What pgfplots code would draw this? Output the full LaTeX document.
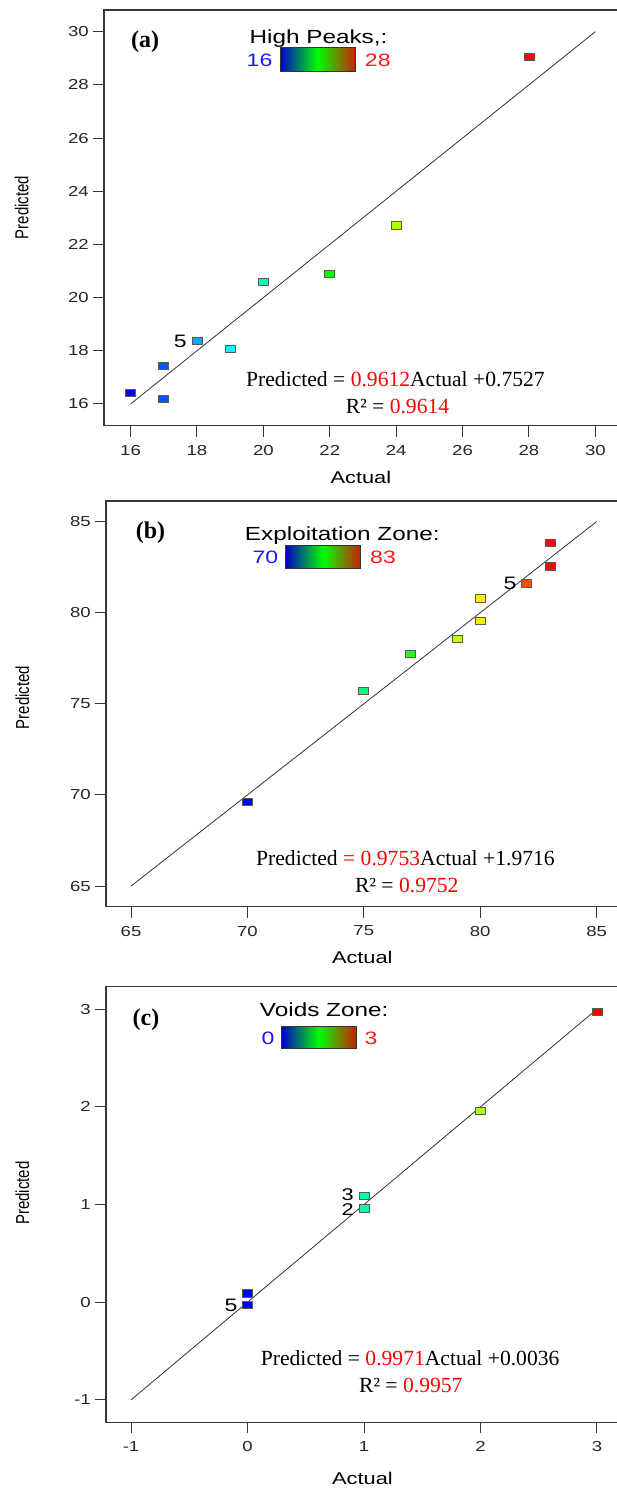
\documentclass[border=0pt]{standalone}
\usepackage{graphicx}
\usepackage{fontspec}
\usepackage{pgfplots}
\pgfplotsset{compat=1.18}
\setmainfont{Liberation Serif}
\newfontfamily\dxfont[FakeStretch=1.28]{Liberation Sans}
\newfontfamily\dxplain{Liberation Sans}

\definecolor{axisgray}{RGB}{55,55,55}
\definecolor{lblue}{RGB}{25,25,255}
\definecolor{lred}{RGB}{255,25,25}
\definecolor{eqred}{RGB}{255,0,0}
\definecolor{cbblue}{RGB}{0,0,200}
\definecolor{cbgreen}{RGB}{0,255,0}
\definecolor{cbred}{RGB}{205,30,0}

\tikzset{
  runlabel/.style={anchor=east, inner sep=0pt, xshift=-10pt,
    font=\dxfont\fontsize{18}{18}\selectfont},
}

\pgfplotsset{
  colormap={dx}{rgb255=(0,0,255) rgb255=(0,255,255) rgb255=(0,255,0) rgb255=(255,255,0) rgb255=(255,0,0)},
  dxaxis/.style={
    scale only axis, anchor=south west,
    axis line style={axisgray, line width=1.2pt},
    tick style={axisgray, line width=1pt},
    major tick length=11pt, tick align=outside,
    xtick pos=bottom, ytick pos=left,
    /pgf/number format/assume math mode=true,
    ticklabel style={font=\dxfont\fontsize{14.5}{15}\selectfont, text=black!85},
    yticklabel style={inner sep=0pt, xshift=-4pt},
    xticklabel style={inner sep=0pt, yshift=-8pt},
    xlabel style={font=\dxfont\fontsize{17}{18}\selectfont, anchor=base},
    ylabel style={font=\dxplain\fontsize{15}{15}\selectfont, anchor=center},
    clip=false,
  },
  dxpoints/.style={
    scatter, only marks, mark=square*, mark size=3.65pt, point meta=x,
    scatter/use mapped color={draw=black!65, fill=mapped color},
    mark options={xscale=1.37, line width=0.8pt},
  },
  fitline/.style={black!80, line width=0.8pt},
}

\begin{document}
\begin{tikzpicture}

% ---------- (a) High Peaks ----------
\begin{axis}[dxaxis,
  at={(104pt,1062.3pt)}, width=517.9pt, height=415.7pt,
  xmin=15.2, xmax=30.8, ymin=15.184, ymax=30.816,
  xtick={16,18,...,30}, ytick={16,18,...,30},
  point meta min=16, point meta max=28,
  xlabel={Actual}, xlabel style={at={(axis description cs:0.496,0)}, yshift=-57.6pt},
  ylabel={\scalebox{1}[1.25]{Predicted}}, ylabel style={at={(axis description cs:-0.159,0.525)}},
]
\addplot[fitline] coordinates {(16,16) (30,30)};
\addplot[dxpoints] table {
x  y
16 16.41
17 17.43
17 16.19
18 18.37
19 18.07
20 20.60
22 20.88
24 22.71
28 29.04
};
\node[runlabel] at (axis cs:18,18.37) {5};
\end{axis}

% ---------- (b) Exploitation Zone ----------
\begin{axis}[dxaxis,
  at={(106pt,581.3pt)}, width=515.6pt, height=405.7pt,
  xmin=63.926, xmax=86.074, ymin=63.87, ymax=86.13,
  xtick={65,70,...,85}, ytick={65,70,...,85},
  point meta min=70, point meta max=83,
  xlabel={Actual}, xlabel style={at={(axis description cs:0.497,0)}, yshift=-56.6pt},
  ylabel={\scalebox{1}[1.25]{Predicted}}, ylabel style={at={(axis description cs:-0.162,0.516)}},
]
\addplot[fitline] coordinates {(65,65) (85,85)};
\addplot[dxpoints] table {
x  y
70 69.63
75 75.70
77 77.74
79 78.58
80 79.56
80 80.78
82 81.61
83 82.54
83 83.83
};
\node[runlabel] at (axis cs:82,81.61) {5};
\end{axis}

% ---------- (c) Voids Zone ----------
\begin{axis}[dxaxis,
  at={(106pt,65.7pt)}, width=516pt, height=435.6pt,
  xmin=-1.215, xmax=3.215, ymin=-1.23, ymax=3.23,
  xtick={-1,0,...,3}, ytick={-1,0,...,3},
  point meta min=0, point meta max=3,
  xlabel={Actual}, xlabel style={at={(axis description cs:0.497,0)}, yshift=-61.7pt},
  ylabel={\scalebox{1}[1.25]{Predicted}}, ylabel style={at={(axis description cs:-0.162,0.526)}},
]
\addplot[fitline] coordinates {(-1,-1) (3,3)};
\addplot[dxpoints] table {
x y
0 0.09
0 -0.03
1 1.09
1 0.96
2 1.96
3 2.97
};
\node[runlabel, yshift=1.5pt, font=\dxfont\fontsize{17}{17}\selectfont] at (axis cs:1,1.09) {3};
\node[runlabel, yshift=-1.5pt, font=\dxfont\fontsize{17}{17}\selectfont] at (axis cs:1,0.96) {2};
\node[runlabel] at (axis cs:0,-0.03) {5};
\end{axis}

% ---------- panel letters, colour keys and fit equations ----------
\begin{scope}[shift={(0pt,1488pt)}, x=1pt, y=-1pt]
  \tikzset{
    key/.style={anchor=base, inner sep=0pt, font=\dxfont\fontsize{19}{19}\selectfont},
    keynum/.style={anchor=base, inner sep=0pt, font=\dxfont\fontsize{18}{18}\selectfont},
    panel/.style={inner sep=0pt, font=\bfseries\fontsize{24}{24}\selectfont},
    eq/.style={anchor=base west, inner sep=0pt, font=\fontsize{21.6}{22}\selectfont},
    keybar/.style={left color=cbblue, right color=cbred, middle color=cbgreen},
  }
  % (a)
  \node[panel] at (145,42) {(a)};
  \node[key] at (318.5,43.3) {High Peaks,:};
  \shade[keybar] (280,48) rectangle (355.7,72);
  \draw[black!80, line width=1pt] (280,48) rectangle (355.7,72);
  \node[keynum, text=lblue] at (259.5,66.7) {16};
  \node[keynum, text=lred] at (377.8,66.7) {28};
  \node[eq] at (246,386.7) {Predicted = \textcolor{eqred}{0.9612}Actual +0.7527};
  \node[eq] at (345.7,413.3) {R² = \textcolor{eqred}{0.9614}};
  % (b)
  \node[panel] at (150.5,533) {(b)};
  \node[key] at (342.3,540.3) {Exploitation Zone:};
  \shade[keybar] (285.7,546) rectangle (360.7,569);
  \draw[black!80, line width=1pt] (285.7,546) rectangle (360.7,569);
  \node[keynum, text=lblue] at (265.5,563.3) {70};
  \node[keynum, text=lred] at (383,563.3) {83};
  \node[eq] at (256,865.7) {Predicted \textcolor{eqred}{= 0.9753}Actual +1.9716};
  \node[eq] at (355,892.7) {R² = \textcolor{eqred}{0.9752}};
  % (c)
  \node[panel] at (146,1020) {(c)};
  \node[key] at (324.2,1017) {Voids Zone:};
  \shade[keybar] (281.7,1026.7) rectangle (356,1049);
  \draw[black!80, line width=1pt] (281.7,1026.7) rectangle (356,1049);
  \node[keynum, text=lblue] at (268,1045) {0};
  \node[keynum, text=lred] at (371,1045) {3};
  \node[eq] at (260.7,1366) {Predicted = \textcolor{eqred}{0.9971}Actual +0.0036};
  \node[eq] at (359,1392.7) {R² = \textcolor{eqred}{0.9957}};
\end{scope}

\pgfresetboundingbox
\path (0pt,0pt) rectangle (616pt,1488pt);
\end{tikzpicture}
\end{document}
